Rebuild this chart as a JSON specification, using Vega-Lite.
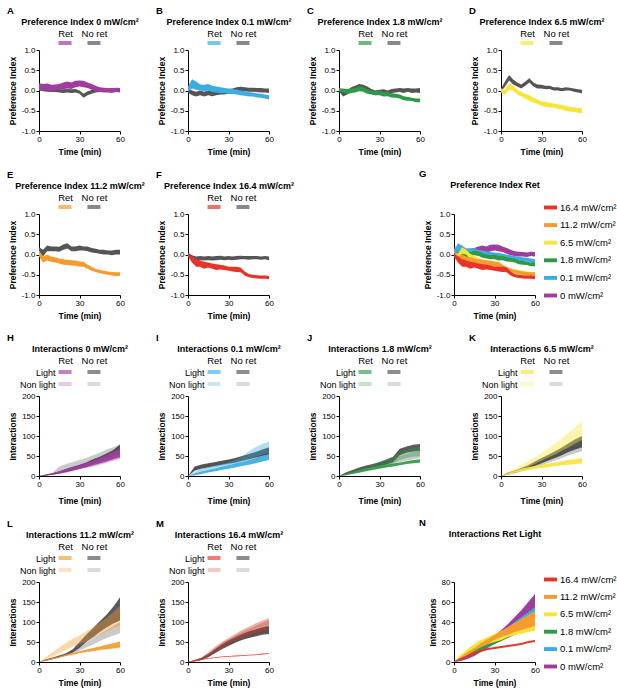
{
  "$schema": "https://vega.github.io/schema/vega-lite/v6.json",
  "padding": {"left": 7, "top": 5, "right": 5, "bottom": 5},
  "datasets": {
    "legPI": [{"g": "Ret"}, {"g": "No ret"}],
    "legIA": [
      {"s": "RL", "g": "Ret", "l": "Light"},
      {"s": "NL", "g": "No ret", "l": "Light"},
      {"s": "RN", "g": "Ret", "l": "Non light"},
      {"s": "NN", "g": "No ret", "l": "Non light"}
    ],
    "pi": [
      {"p":"0","g":"No ret","t":0,"lo":0.0,"hi":0.1},{"p":"0","g":"No ret","t":3,"lo":-0.02,"hi":0.08},{"p":"0","g":"No ret","t":6,"lo":-0.03,"hi":0.07},{"p":"0","g":"No ret","t":9,"lo":-0.04,"hi":0.06},{"p":"0","g":"No ret","t":12,"lo":-0.04,"hi":0.04},{"p":"0","g":"No ret","t":15,"lo":-0.05,"hi":0.03},{"p":"0","g":"No ret","t":18,"lo":-0.06,"hi":0.03},{"p":"0","g":"No ret","t":21,"lo":-0.05,"hi":0.04},{"p":"0","g":"No ret","t":24,"lo":-0.06,"hi":0.03},{"p":"0","g":"No ret","t":27,"lo":-0.05,"hi":0.04},{"p":"0","g":"No ret","t":30,"lo":-0.08,"hi":0.0},{"p":"0","g":"No ret","t":33,"lo":-0.18,"hi":-0.08},{"p":"0","g":"No ret","t":36,"lo":-0.12,"hi":-0.02},{"p":"0","g":"No ret","t":39,"lo":-0.08,"hi":0.01},{"p":"0","g":"No ret","t":42,"lo":-0.05,"hi":0.03},{"p":"0","g":"No ret","t":45,"lo":-0.04,"hi":0.04},{"p":"0","g":"No ret","t":48,"lo":-0.02,"hi":0.06},{"p":"0","g":"No ret","t":51,"lo":-0.03,"hi":0.05},{"p":"0","g":"No ret","t":54,"lo":-0.02,"hi":0.06},{"p":"0","g":"No ret","t":57,"lo":-0.03,"hi":0.05},{"p":"0","g":"No ret","t":60,"lo":-0.02,"hi":0.06},
      {"p":"0","g":"Ret","t":0,"lo":0.02,"hi":0.18},{"p":"0","g":"Ret","t":3,"lo":0.0,"hi":0.16},{"p":"0","g":"Ret","t":6,"lo":0.02,"hi":0.17},{"p":"0","g":"Ret","t":9,"lo":-0.02,"hi":0.14},{"p":"0","g":"Ret","t":12,"lo":0.0,"hi":0.15},{"p":"0","g":"Ret","t":15,"lo":0.02,"hi":0.16},{"p":"0","g":"Ret","t":18,"lo":0.03,"hi":0.2},{"p":"0","g":"Ret","t":21,"lo":0.05,"hi":0.22},{"p":"0","g":"Ret","t":24,"lo":0.04,"hi":0.2},{"p":"0","g":"Ret","t":27,"lo":0.08,"hi":0.24},{"p":"0","g":"Ret","t":30,"lo":0.1,"hi":0.25},{"p":"0","g":"Ret","t":33,"lo":0.08,"hi":0.24},{"p":"0","g":"Ret","t":36,"lo":0.06,"hi":0.2},{"p":"0","g":"Ret","t":39,"lo":0.02,"hi":0.16},{"p":"0","g":"Ret","t":42,"lo":-0.02,"hi":0.12},{"p":"0","g":"Ret","t":45,"lo":-0.04,"hi":0.08},{"p":"0","g":"Ret","t":48,"lo":-0.05,"hi":0.07},{"p":"0","g":"Ret","t":51,"lo":-0.05,"hi":0.06},{"p":"0","g":"Ret","t":54,"lo":-0.06,"hi":0.05},{"p":"0","g":"Ret","t":57,"lo":-0.04,"hi":0.07},{"p":"0","g":"Ret","t":60,"lo":-0.05,"hi":0.06},
      {"p":"0.1","g":"No ret","t":0,"lo":-0.05,"hi":0.05},{"p":"0.1","g":"No ret","t":3,"lo":-0.12,"hi":0.0},{"p":"0.1","g":"No ret","t":6,"lo":-0.15,"hi":-0.03},{"p":"0.1","g":"No ret","t":9,"lo":-0.12,"hi":0.0},{"p":"0.1","g":"No ret","t":12,"lo":-0.15,"hi":-0.03},{"p":"0.1","g":"No ret","t":15,"lo":-0.12,"hi":0.0},{"p":"0.1","g":"No ret","t":18,"lo":-0.14,"hi":-0.02},{"p":"0.1","g":"No ret","t":21,"lo":-0.12,"hi":0.0},{"p":"0.1","g":"No ret","t":24,"lo":-0.1,"hi":0.02},{"p":"0.1","g":"No ret","t":27,"lo":-0.1,"hi":0.02},{"p":"0.1","g":"No ret","t":30,"lo":-0.08,"hi":0.04},{"p":"0.1","g":"No ret","t":33,"lo":-0.08,"hi":0.05},{"p":"0.1","g":"No ret","t":36,"lo":-0.04,"hi":0.08},{"p":"0.1","g":"No ret","t":39,"lo":-0.02,"hi":0.09},{"p":"0.1","g":"No ret","t":42,"lo":-0.02,"hi":0.08},{"p":"0.1","g":"No ret","t":45,"lo":-0.03,"hi":0.07},{"p":"0.1","g":"No ret","t":48,"lo":-0.03,"hi":0.07},{"p":"0.1","g":"No ret","t":51,"lo":-0.04,"hi":0.06},{"p":"0.1","g":"No ret","t":54,"lo":-0.05,"hi":0.06},{"p":"0.1","g":"No ret","t":57,"lo":-0.05,"hi":0.05},{"p":"0.1","g":"No ret","t":60,"lo":-0.06,"hi":0.05},
      {"p":"0.1","g":"Ret","t":0,"lo":-0.02,"hi":0.1},{"p":"0.1","g":"Ret","t":3,"lo":0.05,"hi":0.28},{"p":"0.1","g":"Ret","t":6,"lo":0.02,"hi":0.22},{"p":"0.1","g":"Ret","t":9,"lo":0.0,"hi":0.15},{"p":"0.1","g":"Ret","t":12,"lo":-0.02,"hi":0.14},{"p":"0.1","g":"Ret","t":15,"lo":0.0,"hi":0.16},{"p":"0.1","g":"Ret","t":18,"lo":-0.04,"hi":0.12},{"p":"0.1","g":"Ret","t":21,"lo":-0.05,"hi":0.1},{"p":"0.1","g":"Ret","t":24,"lo":-0.06,"hi":0.08},{"p":"0.1","g":"Ret","t":27,"lo":-0.07,"hi":0.06},{"p":"0.1","g":"Ret","t":30,"lo":-0.08,"hi":0.05},{"p":"0.1","g":"Ret","t":33,"lo":-0.08,"hi":0.04},{"p":"0.1","g":"Ret","t":36,"lo":-0.1,"hi":0.02},{"p":"0.1","g":"Ret","t":39,"lo":-0.12,"hi":0.0},{"p":"0.1","g":"Ret","t":42,"lo":-0.13,"hi":-0.02},{"p":"0.1","g":"Ret","t":45,"lo":-0.15,"hi":-0.04},{"p":"0.1","g":"Ret","t":48,"lo":-0.15,"hi":-0.05},{"p":"0.1","g":"Ret","t":51,"lo":-0.17,"hi":-0.07},{"p":"0.1","g":"Ret","t":54,"lo":-0.18,"hi":-0.08},{"p":"0.1","g":"Ret","t":57,"lo":-0.2,"hi":-0.1},{"p":"0.1","g":"Ret","t":60,"lo":-0.22,"hi":-0.12},
      {"p":"1.8","g":"No ret","t":0,"lo":-0.02,"hi":0.08},{"p":"1.8","g":"No ret","t":3,"lo":-0.15,"hi":-0.02},{"p":"1.8","g":"No ret","t":6,"lo":-0.1,"hi":0.0},{"p":"1.8","g":"No ret","t":9,"lo":-0.05,"hi":0.08},{"p":"1.8","g":"No ret","t":12,"lo":0.0,"hi":0.12},{"p":"1.8","g":"No ret","t":15,"lo":0.05,"hi":0.16},{"p":"1.8","g":"No ret","t":18,"lo":0.02,"hi":0.14},{"p":"1.8","g":"No ret","t":21,"lo":-0.02,"hi":0.1},{"p":"1.8","g":"No ret","t":24,"lo":-0.08,"hi":0.04},{"p":"1.8","g":"No ret","t":27,"lo":-0.12,"hi":0.0},{"p":"1.8","g":"No ret","t":30,"lo":-0.1,"hi":0.02},{"p":"1.8","g":"No ret","t":33,"lo":-0.08,"hi":0.03},{"p":"1.8","g":"No ret","t":36,"lo":-0.12,"hi":0.0},{"p":"1.8","g":"No ret","t":39,"lo":-0.06,"hi":0.04},{"p":"1.8","g":"No ret","t":42,"lo":-0.05,"hi":0.05},{"p":"1.8","g":"No ret","t":45,"lo":-0.04,"hi":0.06},{"p":"1.8","g":"No ret","t":48,"lo":-0.06,"hi":0.05},{"p":"1.8","g":"No ret","t":51,"lo":-0.03,"hi":0.06},{"p":"1.8","g":"No ret","t":54,"lo":-0.06,"hi":0.05},{"p":"1.8","g":"No ret","t":57,"lo":-0.05,"hi":0.05},{"p":"1.8","g":"No ret","t":60,"lo":-0.06,"hi":0.06},
      {"p":"1.8","g":"Ret","t":0,"lo":-0.02,"hi":0.05},{"p":"1.8","g":"Ret","t":3,"lo":-0.05,"hi":0.05},{"p":"1.8","g":"Ret","t":6,"lo":-0.08,"hi":0.04},{"p":"1.8","g":"Ret","t":9,"lo":-0.06,"hi":0.05},{"p":"1.8","g":"Ret","t":12,"lo":-0.05,"hi":0.06},{"p":"1.8","g":"Ret","t":15,"lo":-0.02,"hi":0.1},{"p":"1.8","g":"Ret","t":18,"lo":-0.03,"hi":0.08},{"p":"1.8","g":"Ret","t":21,"lo":-0.08,"hi":0.03},{"p":"1.8","g":"Ret","t":24,"lo":-0.1,"hi":0.0},{"p":"1.8","g":"Ret","t":27,"lo":-0.12,"hi":-0.02},{"p":"1.8","g":"Ret","t":30,"lo":-0.12,"hi":0.0},{"p":"1.8","g":"Ret","t":33,"lo":-0.15,"hi":-0.04},{"p":"1.8","g":"Ret","t":36,"lo":-0.14,"hi":-0.03},{"p":"1.8","g":"Ret","t":39,"lo":-0.17,"hi":-0.07},{"p":"1.8","g":"Ret","t":42,"lo":-0.18,"hi":-0.08},{"p":"1.8","g":"Ret","t":45,"lo":-0.2,"hi":-0.1},{"p":"1.8","g":"Ret","t":48,"lo":-0.24,"hi":-0.14},{"p":"1.8","g":"Ret","t":51,"lo":-0.25,"hi":-0.16},{"p":"1.8","g":"Ret","t":54,"lo":-0.26,"hi":-0.18},{"p":"1.8","g":"Ret","t":57,"lo":-0.29,"hi":-0.2},{"p":"1.8","g":"Ret","t":60,"lo":-0.29,"hi":-0.2},
      {"p":"6.5","g":"No ret","t":0,"lo":-0.03,"hi":0.05},{"p":"6.5","g":"No ret","t":3,"lo":0.1,"hi":0.22},{"p":"6.5","g":"No ret","t":6,"lo":0.25,"hi":0.38},{"p":"6.5","g":"No ret","t":9,"lo":0.15,"hi":0.27},{"p":"6.5","g":"No ret","t":12,"lo":0.1,"hi":0.2},{"p":"6.5","g":"No ret","t":15,"lo":0.05,"hi":0.15},{"p":"6.5","g":"No ret","t":18,"lo":0.12,"hi":0.22},{"p":"6.5","g":"No ret","t":21,"lo":0.2,"hi":0.3},{"p":"6.5","g":"No ret","t":24,"lo":0.1,"hi":0.2},{"p":"6.5","g":"No ret","t":27,"lo":0.05,"hi":0.15},{"p":"6.5","g":"No ret","t":30,"lo":0.05,"hi":0.14},{"p":"6.5","g":"No ret","t":33,"lo":0.03,"hi":0.12},{"p":"6.5","g":"No ret","t":36,"lo":0.04,"hi":0.12},{"p":"6.5","g":"No ret","t":39,"lo":0.0,"hi":0.08},{"p":"6.5","g":"No ret","t":42,"lo":0.0,"hi":0.08},{"p":"6.5","g":"No ret","t":45,"lo":-0.02,"hi":0.06},{"p":"6.5","g":"No ret","t":48,"lo":0.0,"hi":0.08},{"p":"6.5","g":"No ret","t":51,"lo":0.0,"hi":0.07},{"p":"6.5","g":"No ret","t":54,"lo":-0.03,"hi":0.05},{"p":"6.5","g":"No ret","t":57,"lo":-0.05,"hi":0.03},{"p":"6.5","g":"No ret","t":60,"lo":-0.07,"hi":0.02},
      {"p":"6.5","g":"Ret","t":0,"lo":-0.05,"hi":0.05},{"p":"6.5","g":"Ret","t":3,"lo":-0.1,"hi":0.02},{"p":"6.5","g":"Ret","t":6,"lo":0.02,"hi":0.18},{"p":"6.5","g":"Ret","t":9,"lo":0.0,"hi":0.12},{"p":"6.5","g":"Ret","t":12,"lo":-0.1,"hi":0.02},{"p":"6.5","g":"Ret","t":15,"lo":-0.15,"hi":-0.03},{"p":"6.5","g":"Ret","t":18,"lo":-0.2,"hi":-0.08},{"p":"6.5","g":"Ret","t":21,"lo":-0.25,"hi":-0.12},{"p":"6.5","g":"Ret","t":24,"lo":-0.3,"hi":-0.18},{"p":"6.5","g":"Ret","t":27,"lo":-0.33,"hi":-0.22},{"p":"6.5","g":"Ret","t":30,"lo":-0.38,"hi":-0.27},{"p":"6.5","g":"Ret","t":33,"lo":-0.4,"hi":-0.28},{"p":"6.5","g":"Ret","t":36,"lo":-0.42,"hi":-0.3},{"p":"6.5","g":"Ret","t":39,"lo":-0.42,"hi":-0.32},{"p":"6.5","g":"Ret","t":42,"lo":-0.45,"hi":-0.34},{"p":"6.5","g":"Ret","t":45,"lo":-0.47,"hi":-0.36},{"p":"6.5","g":"Ret","t":48,"lo":-0.5,"hi":-0.38},{"p":"6.5","g":"Ret","t":51,"lo":-0.52,"hi":-0.4},{"p":"6.5","g":"Ret","t":54,"lo":-0.53,"hi":-0.42},{"p":"6.5","g":"Ret","t":57,"lo":-0.55,"hi":-0.43},{"p":"6.5","g":"Ret","t":60,"lo":-0.56,"hi":-0.44},
      {"p":"11.2","g":"No ret","t":0,"lo":0.05,"hi":0.18},{"p":"11.2","g":"No ret","t":3,"lo":-0.05,"hi":0.12},{"p":"11.2","g":"No ret","t":6,"lo":0.08,"hi":0.22},{"p":"11.2","g":"No ret","t":9,"lo":0.08,"hi":0.2},{"p":"11.2","g":"No ret","t":12,"lo":0.08,"hi":0.2},{"p":"11.2","g":"No ret","t":15,"lo":0.07,"hi":0.19},{"p":"11.2","g":"No ret","t":18,"lo":0.12,"hi":0.25},{"p":"11.2","g":"No ret","t":21,"lo":0.15,"hi":0.28},{"p":"11.2","g":"No ret","t":24,"lo":0.08,"hi":0.2},{"p":"11.2","g":"No ret","t":27,"lo":0.08,"hi":0.2},{"p":"11.2","g":"No ret","t":30,"lo":0.1,"hi":0.22},{"p":"11.2","g":"No ret","t":33,"lo":0.1,"hi":0.2},{"p":"11.2","g":"No ret","t":36,"lo":0.08,"hi":0.2},{"p":"11.2","g":"No ret","t":39,"lo":0.05,"hi":0.16},{"p":"11.2","g":"No ret","t":42,"lo":0.04,"hi":0.14},{"p":"11.2","g":"No ret","t":45,"lo":0.02,"hi":0.12},{"p":"11.2","g":"No ret","t":48,"lo":0.0,"hi":0.12},{"p":"11.2","g":"No ret","t":51,"lo":0.0,"hi":0.1},{"p":"11.2","g":"No ret","t":54,"lo":-0.02,"hi":0.1},{"p":"11.2","g":"No ret","t":57,"lo":0.0,"hi":0.12},{"p":"11.2","g":"No ret","t":60,"lo":0.0,"hi":0.12},
      {"p":"11.2","g":"Ret","t":0,"lo":-0.05,"hi":0.1},{"p":"11.2","g":"Ret","t":3,"lo":-0.2,"hi":-0.05},{"p":"11.2","g":"Ret","t":6,"lo":-0.15,"hi":0.0},{"p":"11.2","g":"Ret","t":9,"lo":-0.18,"hi":-0.05},{"p":"11.2","g":"Ret","t":12,"lo":-0.2,"hi":-0.07},{"p":"11.2","g":"Ret","t":15,"lo":-0.22,"hi":-0.1},{"p":"11.2","g":"Ret","t":18,"lo":-0.25,"hi":-0.12},{"p":"11.2","g":"Ret","t":21,"lo":-0.26,"hi":-0.13},{"p":"11.2","g":"Ret","t":24,"lo":-0.27,"hi":-0.14},{"p":"11.2","g":"Ret","t":27,"lo":-0.28,"hi":-0.15},{"p":"11.2","g":"Ret","t":30,"lo":-0.3,"hi":-0.17},{"p":"11.2","g":"Ret","t":33,"lo":-0.3,"hi":-0.18},{"p":"11.2","g":"Ret","t":36,"lo":-0.35,"hi":-0.25},{"p":"11.2","g":"Ret","t":39,"lo":-0.4,"hi":-0.3},{"p":"11.2","g":"Ret","t":42,"lo":-0.43,"hi":-0.35},{"p":"11.2","g":"Ret","t":45,"lo":-0.46,"hi":-0.38},{"p":"11.2","g":"Ret","t":48,"lo":-0.48,"hi":-0.4},{"p":"11.2","g":"Ret","t":51,"lo":-0.5,"hi":-0.42},{"p":"11.2","g":"Ret","t":54,"lo":-0.52,"hi":-0.43},{"p":"11.2","g":"Ret","t":57,"lo":-0.53,"hi":-0.44},{"p":"11.2","g":"Ret","t":60,"lo":-0.53,"hi":-0.44},
      {"p":"16.4","g":"No ret","t":0,"lo":-0.03,"hi":0.05},{"p":"16.4","g":"No ret","t":3,"lo":-0.12,"hi":-0.02},{"p":"16.4","g":"No ret","t":6,"lo":-0.15,"hi":-0.05},{"p":"16.4","g":"No ret","t":9,"lo":-0.14,"hi":-0.04},{"p":"16.4","g":"No ret","t":12,"lo":-0.15,"hi":-0.05},{"p":"16.4","g":"No ret","t":15,"lo":-0.14,"hi":-0.04},{"p":"16.4","g":"No ret","t":18,"lo":-0.15,"hi":-0.05},{"p":"16.4","g":"No ret","t":21,"lo":-0.14,"hi":-0.04},{"p":"16.4","g":"No ret","t":24,"lo":-0.13,"hi":-0.03},{"p":"16.4","g":"No ret","t":27,"lo":-0.14,"hi":-0.05},{"p":"16.4","g":"No ret","t":30,"lo":-0.13,"hi":-0.04},{"p":"16.4","g":"No ret","t":33,"lo":-0.14,"hi":-0.05},{"p":"16.4","g":"No ret","t":36,"lo":-0.13,"hi":-0.04},{"p":"16.4","g":"No ret","t":39,"lo":-0.12,"hi":-0.03},{"p":"16.4","g":"No ret","t":42,"lo":-0.12,"hi":-0.04},{"p":"16.4","g":"No ret","t":45,"lo":-0.13,"hi":-0.04},{"p":"16.4","g":"No ret","t":48,"lo":-0.12,"hi":-0.04},{"p":"16.4","g":"No ret","t":51,"lo":-0.12,"hi":-0.04},{"p":"16.4","g":"No ret","t":54,"lo":-0.13,"hi":-0.05},{"p":"16.4","g":"No ret","t":57,"lo":-0.12,"hi":-0.04},{"p":"16.4","g":"No ret","t":60,"lo":-0.14,"hi":-0.05},
      {"p":"16.4","g":"Ret","t":0,"lo":-0.05,"hi":0.03},{"p":"16.4","g":"Ret","t":3,"lo":-0.2,"hi":-0.05},{"p":"16.4","g":"Ret","t":6,"lo":-0.3,"hi":-0.12},{"p":"16.4","g":"Ret","t":9,"lo":-0.3,"hi":-0.15},{"p":"16.4","g":"Ret","t":12,"lo":-0.35,"hi":-0.18},{"p":"16.4","g":"Ret","t":15,"lo":-0.32,"hi":-0.2},{"p":"16.4","g":"Ret","t":18,"lo":-0.35,"hi":-0.22},{"p":"16.4","g":"Ret","t":21,"lo":-0.38,"hi":-0.24},{"p":"16.4","g":"Ret","t":24,"lo":-0.37,"hi":-0.25},{"p":"16.4","g":"Ret","t":27,"lo":-0.38,"hi":-0.27},{"p":"16.4","g":"Ret","t":30,"lo":-0.4,"hi":-0.3},{"p":"16.4","g":"Ret","t":33,"lo":-0.42,"hi":-0.3},{"p":"16.4","g":"Ret","t":36,"lo":-0.43,"hi":-0.3},{"p":"16.4","g":"Ret","t":39,"lo":-0.44,"hi":-0.32},{"p":"16.4","g":"Ret","t":42,"lo":-0.52,"hi":-0.42},{"p":"16.4","g":"Ret","t":45,"lo":-0.56,"hi":-0.48},{"p":"16.4","g":"Ret","t":48,"lo":-0.58,"hi":-0.5},{"p":"16.4","g":"Ret","t":51,"lo":-0.59,"hi":-0.51},{"p":"16.4","g":"Ret","t":54,"lo":-0.6,"hi":-0.52},{"p":"16.4","g":"Ret","t":57,"lo":-0.6,"hi":-0.52},{"p":"16.4","g":"Ret","t":60,"lo":-0.61,"hi":-0.53}
    ],
    "ia": [
      {"p":"0","s":"NN","t":0,"lo":0,"hi":0},{"p":"0","s":"NN","t":5,"lo":1,"hi":4},{"p":"0","s":"NN","t":10,"lo":3,"hi":8},{"p":"0","s":"NN","t":15,"lo":12,"hi":24},{"p":"0","s":"NN","t":20,"lo":18,"hi":30},{"p":"0","s":"NN","t":25,"lo":22,"hi":35},{"p":"0","s":"NN","t":30,"lo":27,"hi":40},{"p":"0","s":"NN","t":35,"lo":32,"hi":45},{"p":"0","s":"NN","t":40,"lo":37,"hi":52},{"p":"0","s":"NN","t":45,"lo":43,"hi":58},{"p":"0","s":"NN","t":50,"lo":50,"hi":66},{"p":"0","s":"NN","t":55,"lo":56,"hi":72},{"p":"0","s":"NN","t":60,"lo":60,"hi":80},
      {"p":"0","s":"NL","t":0,"lo":0,"hi":0},{"p":"0","s":"NL","t":5,"lo":1,"hi":4},{"p":"0","s":"NL","t":10,"lo":3,"hi":7},{"p":"0","s":"NL","t":15,"lo":6,"hi":12},{"p":"0","s":"NL","t":20,"lo":10,"hi":18},{"p":"0","s":"NL","t":25,"lo":14,"hi":23},{"p":"0","s":"NL","t":30,"lo":18,"hi":28},{"p":"0","s":"NL","t":35,"lo":23,"hi":34},{"p":"0","s":"NL","t":40,"lo":30,"hi":42},{"p":"0","s":"NL","t":45,"lo":36,"hi":48},{"p":"0","s":"NL","t":50,"lo":42,"hi":56},{"p":"0","s":"NL","t":55,"lo":48,"hi":65},{"p":"0","s":"NL","t":60,"lo":55,"hi":78},
      {"p":"0","s":"RN","t":0,"lo":0,"hi":0},{"p":"0","s":"RN","t":5,"lo":1,"hi":3},{"p":"0","s":"RN","t":10,"lo":3,"hi":6},{"p":"0","s":"RN","t":15,"lo":5,"hi":10},{"p":"0","s":"RN","t":20,"lo":8,"hi":14},{"p":"0","s":"RN","t":25,"lo":12,"hi":19},{"p":"0","s":"RN","t":30,"lo":16,"hi":24},{"p":"0","s":"RN","t":35,"lo":20,"hi":29},{"p":"0","s":"RN","t":40,"lo":24,"hi":34},{"p":"0","s":"RN","t":45,"lo":28,"hi":40},{"p":"0","s":"RN","t":50,"lo":33,"hi":46},{"p":"0","s":"RN","t":55,"lo":38,"hi":52},{"p":"0","s":"RN","t":60,"lo":43,"hi":58},
      {"p":"0","s":"RL","t":0,"lo":0,"hi":0},{"p":"0","s":"RL","t":5,"lo":1,"hi":3},{"p":"0","s":"RL","t":10,"lo":3,"hi":7},{"p":"0","s":"RL","t":15,"lo":6,"hi":12},{"p":"0","s":"RL","t":20,"lo":10,"hi":17},{"p":"0","s":"RL","t":25,"lo":14,"hi":22},{"p":"0","s":"RL","t":30,"lo":18,"hi":27},{"p":"0","s":"RL","t":35,"lo":22,"hi":32},{"p":"0","s":"RL","t":40,"lo":27,"hi":38},{"p":"0","s":"RL","t":45,"lo":31,"hi":45},{"p":"0","s":"RL","t":50,"lo":36,"hi":52},{"p":"0","s":"RL","t":55,"lo":42,"hi":60},{"p":"0","s":"RL","t":60,"lo":47,"hi":68},
      {"p":"0.1","s":"NN","t":0,"lo":0,"hi":0},{"p":"0.1","s":"NN","t":5,"lo":12,"hi":22},{"p":"0.1","s":"NN","t":10,"lo":17,"hi":27},{"p":"0.1","s":"NN","t":15,"lo":20,"hi":30},{"p":"0.1","s":"NN","t":20,"lo":23,"hi":33},{"p":"0.1","s":"NN","t":25,"lo":26,"hi":36},{"p":"0.1","s":"NN","t":30,"lo":29,"hi":39},{"p":"0.1","s":"NN","t":35,"lo":32,"hi":43},{"p":"0.1","s":"NN","t":40,"lo":36,"hi":48},{"p":"0.1","s":"NN","t":45,"lo":40,"hi":53},{"p":"0.1","s":"NN","t":50,"lo":44,"hi":58},{"p":"0.1","s":"NN","t":55,"lo":48,"hi":64},{"p":"0.1","s":"NN","t":60,"lo":52,"hi":70},
      {"p":"0.1","s":"NL","t":0,"lo":0,"hi":0},{"p":"0.1","s":"NL","t":5,"lo":14,"hi":24},{"p":"0.1","s":"NL","t":10,"lo":19,"hi":29},{"p":"0.1","s":"NL","t":15,"lo":22,"hi":32},{"p":"0.1","s":"NL","t":20,"lo":25,"hi":35},{"p":"0.1","s":"NL","t":25,"lo":28,"hi":38},{"p":"0.1","s":"NL","t":30,"lo":31,"hi":41},{"p":"0.1","s":"NL","t":35,"lo":34,"hi":45},{"p":"0.1","s":"NL","t":40,"lo":38,"hi":50},{"p":"0.1","s":"NL","t":45,"lo":42,"hi":55},{"p":"0.1","s":"NL","t":50,"lo":46,"hi":60},{"p":"0.1","s":"NL","t":55,"lo":50,"hi":66},{"p":"0.1","s":"NL","t":60,"lo":53,"hi":72},
      {"p":"0.1","s":"RN","t":0,"lo":0,"hi":0},{"p":"0.1","s":"RN","t":5,"lo":3,"hi":10},{"p":"0.1","s":"RN","t":10,"lo":8,"hi":18},{"p":"0.1","s":"RN","t":15,"lo":12,"hi":22},{"p":"0.1","s":"RN","t":20,"lo":16,"hi":26},{"p":"0.1","s":"RN","t":25,"lo":20,"hi":30},{"p":"0.1","s":"RN","t":30,"lo":24,"hi":34},{"p":"0.1","s":"RN","t":35,"lo":28,"hi":40},{"p":"0.1","s":"RN","t":40,"lo":34,"hi":48},{"p":"0.1","s":"RN","t":45,"lo":42,"hi":62},{"p":"0.1","s":"RN","t":50,"lo":48,"hi":72},{"p":"0.1","s":"RN","t":55,"lo":54,"hi":80},{"p":"0.1","s":"RN","t":60,"lo":58,"hi":86},
      {"p":"0.1","s":"RL","t":0,"lo":0,"hi":0},{"p":"0.1","s":"RL","t":5,"lo":2,"hi":6},{"p":"0.1","s":"RL","t":10,"lo":5,"hi":11},{"p":"0.1","s":"RL","t":15,"lo":9,"hi":15},{"p":"0.1","s":"RL","t":20,"lo":12,"hi":19},{"p":"0.1","s":"RL","t":25,"lo":15,"hi":23},{"p":"0.1","s":"RL","t":30,"lo":18,"hi":27},{"p":"0.1","s":"RL","t":35,"lo":21,"hi":31},{"p":"0.1","s":"RL","t":40,"lo":25,"hi":35},{"p":"0.1","s":"RL","t":45,"lo":28,"hi":40},{"p":"0.1","s":"RL","t":50,"lo":32,"hi":45},{"p":"0.1","s":"RL","t":55,"lo":36,"hi":50},{"p":"0.1","s":"RL","t":60,"lo":40,"hi":55},
      {"p":"1.8","s":"NN","t":0,"lo":0,"hi":0},{"p":"1.8","s":"NN","t":5,"lo":3,"hi":8},{"p":"1.8","s":"NN","t":10,"lo":7,"hi":13},{"p":"1.8","s":"NN","t":15,"lo":12,"hi":19},{"p":"1.8","s":"NN","t":20,"lo":16,"hi":23},{"p":"1.8","s":"NN","t":25,"lo":19,"hi":27},{"p":"1.8","s":"NN","t":30,"lo":23,"hi":32},{"p":"1.8","s":"NN","t":35,"lo":27,"hi":37},{"p":"1.8","s":"NN","t":40,"lo":30,"hi":42},{"p":"1.8","s":"NN","t":45,"lo":35,"hi":50},{"p":"1.8","s":"NN","t":50,"lo":38,"hi":55},{"p":"1.8","s":"NN","t":55,"lo":42,"hi":60},{"p":"1.8","s":"NN","t":60,"lo":45,"hi":63},
      {"p":"1.8","s":"NL","t":0,"lo":0,"hi":0},{"p":"1.8","s":"NL","t":5,"lo":4,"hi":9},{"p":"1.8","s":"NL","t":10,"lo":9,"hi":15},{"p":"1.8","s":"NL","t":15,"lo":14,"hi":21},{"p":"1.8","s":"NL","t":20,"lo":18,"hi":26},{"p":"1.8","s":"NL","t":25,"lo":21,"hi":30},{"p":"1.8","s":"NL","t":30,"lo":25,"hi":35},{"p":"1.8","s":"NL","t":35,"lo":29,"hi":41},{"p":"1.8","s":"NL","t":40,"lo":35,"hi":48},{"p":"1.8","s":"NL","t":45,"lo":52,"hi":68},{"p":"1.8","s":"NL","t":50,"lo":58,"hi":74},{"p":"1.8","s":"NL","t":55,"lo":61,"hi":78},{"p":"1.8","s":"NL","t":60,"lo":63,"hi":80},
      {"p":"1.8","s":"RN","t":0,"lo":0,"hi":0},{"p":"1.8","s":"RN","t":5,"lo":2,"hi":7},{"p":"1.8","s":"RN","t":10,"lo":6,"hi":13},{"p":"1.8","s":"RN","t":15,"lo":10,"hi":18},{"p":"1.8","s":"RN","t":20,"lo":14,"hi":23},{"p":"1.8","s":"RN","t":25,"lo":18,"hi":28},{"p":"1.8","s":"RN","t":30,"lo":22,"hi":33},{"p":"1.8","s":"RN","t":35,"lo":26,"hi":40},{"p":"1.8","s":"RN","t":40,"lo":32,"hi":48},{"p":"1.8","s":"RN","t":45,"lo":40,"hi":58},{"p":"1.8","s":"RN","t":50,"lo":45,"hi":65},{"p":"1.8","s":"RN","t":55,"lo":48,"hi":70},{"p":"1.8","s":"RN","t":60,"lo":50,"hi":75},
      {"p":"1.8","s":"RL","t":0,"lo":0,"hi":0},{"p":"1.8","s":"RL","t":5,"lo":2,"hi":5},{"p":"1.8","s":"RL","t":10,"lo":5,"hi":10},{"p":"1.8","s":"RL","t":15,"lo":8,"hi":14},{"p":"1.8","s":"RL","t":20,"lo":12,"hi":18},{"p":"1.8","s":"RL","t":25,"lo":15,"hi":21},{"p":"1.8","s":"RL","t":30,"lo":18,"hi":25},{"p":"1.8","s":"RL","t":35,"lo":21,"hi":28},{"p":"1.8","s":"RL","t":40,"lo":24,"hi":31},{"p":"1.8","s":"RL","t":45,"lo":27,"hi":34},{"p":"1.8","s":"RL","t":50,"lo":30,"hi":37},{"p":"1.8","s":"RL","t":55,"lo":32,"hi":40},{"p":"1.8","s":"RL","t":60,"lo":33,"hi":42},
      {"p":"6.5","s":"NN","t":0,"lo":0,"hi":0},{"p":"6.5","s":"NN","t":5,"lo":3,"hi":8},{"p":"6.5","s":"NN","t":10,"lo":7,"hi":13},{"p":"6.5","s":"NN","t":15,"lo":11,"hi":18},{"p":"6.5","s":"NN","t":20,"lo":16,"hi":24},{"p":"6.5","s":"NN","t":25,"lo":21,"hi":31},{"p":"6.5","s":"NN","t":30,"lo":27,"hi":38},{"p":"6.5","s":"NN","t":35,"lo":33,"hi":46},{"p":"6.5","s":"NN","t":40,"lo":39,"hi":54},{"p":"6.5","s":"NN","t":45,"lo":45,"hi":62},{"p":"6.5","s":"NN","t":50,"lo":51,"hi":70},{"p":"6.5","s":"NN","t":55,"lo":57,"hi":78},{"p":"6.5","s":"NN","t":60,"lo":62,"hi":88},
      {"p":"6.5","s":"NL","t":0,"lo":0,"hi":0},{"p":"6.5","s":"NL","t":5,"lo":3,"hi":8},{"p":"6.5","s":"NL","t":10,"lo":8,"hi":14},{"p":"6.5","s":"NL","t":15,"lo":13,"hi":20},{"p":"6.5","s":"NL","t":20,"lo":18,"hi":27},{"p":"6.5","s":"NL","t":25,"lo":25,"hi":36},{"p":"6.5","s":"NL","t":30,"lo":32,"hi":45},{"p":"6.5","s":"NL","t":35,"lo":39,"hi":53},{"p":"6.5","s":"NL","t":40,"lo":45,"hi":62},{"p":"6.5","s":"NL","t":45,"lo":52,"hi":71},{"p":"6.5","s":"NL","t":50,"lo":60,"hi":82},{"p":"6.5","s":"NL","t":55,"lo":66,"hi":92},{"p":"6.5","s":"NL","t":60,"lo":72,"hi":100},
      {"p":"6.5","s":"RN","t":0,"lo":0,"hi":0},{"p":"6.5","s":"RN","t":5,"lo":3,"hi":9},{"p":"6.5","s":"RN","t":10,"lo":9,"hi":18},{"p":"6.5","s":"RN","t":15,"lo":15,"hi":27},{"p":"6.5","s":"RN","t":20,"lo":22,"hi":37},{"p":"6.5","s":"RN","t":25,"lo":30,"hi":47},{"p":"6.5","s":"RN","t":30,"lo":38,"hi":58},{"p":"6.5","s":"RN","t":35,"lo":46,"hi":69},{"p":"6.5","s":"RN","t":40,"lo":54,"hi":81},{"p":"6.5","s":"RN","t":45,"lo":63,"hi":94},{"p":"6.5","s":"RN","t":50,"lo":72,"hi":108},{"p":"6.5","s":"RN","t":55,"lo":82,"hi":122},{"p":"6.5","s":"RN","t":60,"lo":90,"hi":138},
      {"p":"6.5","s":"RL","t":0,"lo":0,"hi":0},{"p":"6.5","s":"RL","t":5,"lo":3,"hi":7},{"p":"6.5","s":"RL","t":10,"lo":8,"hi":13},{"p":"6.5","s":"RL","t":15,"lo":12,"hi":18},{"p":"6.5","s":"RL","t":20,"lo":15,"hi":22},{"p":"6.5","s":"RL","t":25,"lo":18,"hi":25},{"p":"6.5","s":"RL","t":30,"lo":20,"hi":28},{"p":"6.5","s":"RL","t":35,"lo":22,"hi":31},{"p":"6.5","s":"RL","t":40,"lo":25,"hi":34},{"p":"6.5","s":"RL","t":45,"lo":27,"hi":37},{"p":"6.5","s":"RL","t":50,"lo":28,"hi":40},{"p":"6.5","s":"RL","t":55,"lo":30,"hi":42},{"p":"6.5","s":"RL","t":60,"lo":31,"hi":45},
      {"p":"11.2","s":"NN","t":0,"lo":0,"hi":0},{"p":"11.2","s":"NN","t":5,"lo":3,"hi":6},{"p":"11.2","s":"NN","t":10,"lo":6,"hi":10},{"p":"11.2","s":"NN","t":15,"lo":10,"hi":15},{"p":"11.2","s":"NN","t":20,"lo":15,"hi":20},{"p":"11.2","s":"NN","t":25,"lo":20,"hi":28},{"p":"11.2","s":"NN","t":30,"lo":28,"hi":38},{"p":"11.2","s":"NN","t":35,"lo":36,"hi":48},{"p":"11.2","s":"NN","t":40,"lo":44,"hi":60},{"p":"11.2","s":"NN","t":45,"lo":52,"hi":70},{"p":"11.2","s":"NN","t":50,"lo":60,"hi":80},{"p":"11.2","s":"NN","t":55,"lo":66,"hi":90},{"p":"11.2","s":"NN","t":60,"lo":72,"hi":100},
      {"p":"11.2","s":"NL","t":0,"lo":0,"hi":0},{"p":"11.2","s":"NL","t":5,"lo":3,"hi":6},{"p":"11.2","s":"NL","t":10,"lo":7,"hi":11},{"p":"11.2","s":"NL","t":15,"lo":12,"hi":16},{"p":"11.2","s":"NL","t":20,"lo":17,"hi":22},{"p":"11.2","s":"NL","t":25,"lo":24,"hi":32},{"p":"11.2","s":"NL","t":30,"lo":35,"hi":50},{"p":"11.2","s":"NL","t":35,"lo":50,"hi":68},{"p":"11.2","s":"NL","t":40,"lo":62,"hi":85},{"p":"11.2","s":"NL","t":45,"lo":75,"hi":102},{"p":"11.2","s":"NL","t":50,"lo":86,"hi":118},{"p":"11.2","s":"NL","t":55,"lo":96,"hi":138},{"p":"11.2","s":"NL","t":60,"lo":104,"hi":162},
      {"p":"11.2","s":"RN","t":0,"lo":0,"hi":0},{"p":"11.2","s":"RN","t":5,"lo":6,"hi":12},{"p":"11.2","s":"RN","t":10,"lo":14,"hi":24},{"p":"11.2","s":"RN","t":15,"lo":22,"hi":36},{"p":"11.2","s":"RN","t":20,"lo":30,"hi":48},{"p":"11.2","s":"RN","t":25,"lo":38,"hi":58},{"p":"11.2","s":"RN","t":30,"lo":45,"hi":66},{"p":"11.2","s":"RN","t":35,"lo":52,"hi":76},{"p":"11.2","s":"RN","t":40,"lo":60,"hi":86},{"p":"11.2","s":"RN","t":45,"lo":68,"hi":98},{"p":"11.2","s":"RN","t":50,"lo":76,"hi":110},{"p":"11.2","s":"RN","t":55,"lo":84,"hi":124},{"p":"11.2","s":"RN","t":60,"lo":90,"hi":140},
      {"p":"11.2","s":"RL","t":0,"lo":0,"hi":0},{"p":"11.2","s":"RL","t":5,"lo":3,"hi":5},{"p":"11.2","s":"RL","t":10,"lo":7,"hi":10},{"p":"11.2","s":"RL","t":15,"lo":11,"hi":14},{"p":"11.2","s":"RL","t":20,"lo":15,"hi":19},{"p":"11.2","s":"RL","t":25,"lo":18,"hi":23},{"p":"11.2","s":"RL","t":30,"lo":22,"hi":27},{"p":"11.2","s":"RL","t":35,"lo":25,"hi":31},{"p":"11.2","s":"RL","t":40,"lo":27,"hi":35},{"p":"11.2","s":"RL","t":45,"lo":30,"hi":39},{"p":"11.2","s":"RL","t":50,"lo":32,"hi":43},{"p":"11.2","s":"RL","t":55,"lo":34,"hi":47},{"p":"11.2","s":"RL","t":60,"lo":36,"hi":51},
      {"p":"16.4","s":"NN","t":0,"lo":0,"hi":0},{"p":"16.4","s":"NN","t":5,"lo":2,"hi":5},{"p":"16.4","s":"NN","t":10,"lo":5,"hi":11},{"p":"16.4","s":"NN","t":15,"lo":13,"hi":22},{"p":"16.4","s":"NN","t":20,"lo":23,"hi":35},{"p":"16.4","s":"NN","t":25,"lo":33,"hi":47},{"p":"16.4","s":"NN","t":30,"lo":42,"hi":57},{"p":"16.4","s":"NN","t":35,"lo":50,"hi":66},{"p":"16.4","s":"NN","t":40,"lo":57,"hi":75},{"p":"16.4","s":"NN","t":45,"lo":63,"hi":83},{"p":"16.4","s":"NN","t":50,"lo":68,"hi":90},{"p":"16.4","s":"NN","t":55,"lo":72,"hi":98},{"p":"16.4","s":"NN","t":60,"lo":75,"hi":105},
      {"p":"16.4","s":"NL","t":0,"lo":0,"hi":0},{"p":"16.4","s":"NL","t":5,"lo":2,"hi":5},{"p":"16.4","s":"NL","t":10,"lo":5,"hi":10},{"p":"16.4","s":"NL","t":15,"lo":12,"hi":20},{"p":"16.4","s":"NL","t":20,"lo":22,"hi":32},{"p":"16.4","s":"NL","t":25,"lo":32,"hi":44},{"p":"16.4","s":"NL","t":30,"lo":40,"hi":54},{"p":"16.4","s":"NL","t":35,"lo":48,"hi":62},{"p":"16.4","s":"NL","t":40,"lo":55,"hi":70},{"p":"16.4","s":"NL","t":45,"lo":60,"hi":76},{"p":"16.4","s":"NL","t":50,"lo":64,"hi":81},{"p":"16.4","s":"NL","t":55,"lo":68,"hi":86},{"p":"16.4","s":"NL","t":60,"lo":70,"hi":90},
      {"p":"16.4","s":"RN","t":0,"lo":0,"hi":0},{"p":"16.4","s":"RN","t":5,"lo":2,"hi":5},{"p":"16.4","s":"RN","t":10,"lo":5,"hi":11},{"p":"16.4","s":"RN","t":15,"lo":14,"hi":24},{"p":"16.4","s":"RN","t":20,"lo":24,"hi":38},{"p":"16.4","s":"RN","t":25,"lo":34,"hi":50},{"p":"16.4","s":"RN","t":30,"lo":44,"hi":60},{"p":"16.4","s":"RN","t":35,"lo":52,"hi":70},{"p":"16.4","s":"RN","t":40,"lo":60,"hi":80},{"p":"16.4","s":"RN","t":45,"lo":66,"hi":88},{"p":"16.4","s":"RN","t":50,"lo":72,"hi":96},{"p":"16.4","s":"RN","t":55,"lo":76,"hi":104},{"p":"16.4","s":"RN","t":60,"lo":80,"hi":110},
      {"p":"16.4","s":"RL","t":0,"lo":0,"hi":1},{"p":"16.4","s":"RL","t":5,"lo":2,"hi":4},{"p":"16.4","s":"RL","t":10,"lo":5,"hi":7},{"p":"16.4","s":"RL","t":15,"lo":8,"hi":10},{"p":"16.4","s":"RL","t":20,"lo":10,"hi":12},{"p":"16.4","s":"RL","t":25,"lo":12,"hi":14},{"p":"16.4","s":"RL","t":30,"lo":13,"hi":15},{"p":"16.4","s":"RL","t":35,"lo":14,"hi":16},{"p":"16.4","s":"RL","t":40,"lo":15,"hi":17},{"p":"16.4","s":"RL","t":45,"lo":16,"hi":18},{"p":"16.4","s":"RL","t":50,"lo":17,"hi":19},{"p":"16.4","s":"RL","t":55,"lo":19,"hi":21},{"p":"16.4","s":"RL","t":60,"lo":20,"hi":22}
    ]
  },
  "spacing": 12,
  "resolve": {"scale": {"color": "independent"}},
  "vconcat": [
    {
      "columns": 7, "bounds": "flush", "align": "each",
      "spacing": {"row": 3, "column": 0},
      "resolve": {"scale": {"color": "independent"}},
      "concat": [
        {
          "width": 81, "height": 8,
          "title": {"text": "A", "anchor": "start", "frame": "group", "dx": -32, "offset": 2, "fontSize": 9.5, "fontWeight": "bold"},
          "data": {"name": "legPI"},
          "mark": {"type": "tick", "orient": "horizontal", "thickness": 4, "size": 13},
          "encoding": {
            "x": {"field": "g", "type": "nominal", "sort": null, "scale": {"type": "point", "padding": 0.9}, "axis": {"orient": "top", "title": "Preference Index 0 mW/cm²", "domain": false, "ticks": false, "labelAngle": 0, "labelPadding": 1, "labelFontSize": 9.5, "titleFontSize": 9, "titlePadding": 2}},
            "color": {"field": "g", "type": "nominal", "scale": {"domain": ["Ret", "No ret"], "range": ["#a03ca0", "#555555"]}, "legend": null}
          }
        },
        {"width": 68, "height": 1, "data": {"values": [{}]}, "mark": {"type": "rect", "opacity": 0}},
        {
          "width": 81, "height": 8,
          "title": {"text": "B", "anchor": "start", "frame": "group", "dx": -32, "offset": 2, "fontSize": 9.5, "fontWeight": "bold"},
          "data": {"name": "legPI"},
          "mark": {"type": "tick", "orient": "horizontal", "thickness": 4, "size": 13},
          "encoding": {
            "x": {"field": "g", "type": "nominal", "sort": null, "scale": {"type": "point", "padding": 0.9}, "axis": {"orient": "top", "title": "Preference Index 0.1 mW/cm²", "domain": false, "ticks": false, "labelAngle": 0, "labelPadding": 1, "labelFontSize": 9.5, "titleFontSize": 9, "titlePadding": 2}},
            "color": {"field": "g", "type": "nominal", "scale": {"domain": ["Ret", "No ret"], "range": ["#3aaee2", "#555555"]}, "legend": null}
          }
        },
        {"width": 70, "height": 1, "data": {"values": [{}]}, "mark": {"type": "rect", "opacity": 0}},
        {
          "width": 81, "height": 8,
          "title": {"text": "C", "anchor": "start", "frame": "group", "dx": -32, "offset": 2, "fontSize": 9.5, "fontWeight": "bold"},
          "data": {"name": "legPI"},
          "mark": {"type": "tick", "orient": "horizontal", "thickness": 4, "size": 13},
          "encoding": {
            "x": {"field": "g", "type": "nominal", "sort": null, "scale": {"type": "point", "padding": 0.9}, "axis": {"orient": "top", "title": "Preference Index 1.8 mW/cm²", "domain": false, "ticks": false, "labelAngle": 0, "labelPadding": 1, "labelFontSize": 9.5, "titleFontSize": 9, "titlePadding": 2}},
            "color": {"field": "g", "type": "nominal", "scale": {"domain": ["Ret", "No ret"], "range": ["#2e9a48", "#555555"]}, "legend": null}
          }
        },
        {"width": 81, "height": 1, "data": {"values": [{}]}, "mark": {"type": "rect", "opacity": 0}},
        {
          "width": 81, "height": 8,
          "title": {"text": "D", "anchor": "start", "frame": "group", "dx": -32, "offset": 2, "fontSize": 9.5, "fontWeight": "bold"},
          "data": {"name": "legPI"},
          "mark": {"type": "tick", "orient": "horizontal", "thickness": 4, "size": 13},
          "encoding": {
            "x": {"field": "g", "type": "nominal", "sort": null, "scale": {"type": "point", "padding": 0.9}, "axis": {"orient": "top", "title": "Preference Index 6.5 mW/cm²", "domain": false, "ticks": false, "labelAngle": 0, "labelPadding": 1, "labelFontSize": 9.5, "titleFontSize": 9, "titlePadding": 2}},
            "color": {"field": "g", "type": "nominal", "scale": {"domain": ["Ret", "No ret"], "range": ["#f7e53a", "#555555"]}, "legend": null}
          }
        },
        {
          "width": 81, "height": 81,
          "data": {"name": "pi"},
          "transform": [{"filter": "datum.p === '0'"}],
          "mark": "area",
          "encoding": {
            "x": {"field": "t", "type": "quantitative", "scale": {"domain": [0, 60]}, "axis": {"values": [0, 30, 60], "title": "Time (min)"}},
            "y": {"field": "lo", "type": "quantitative", "stack": null, "scale": {"domain": [-1, 1]}, "axis": {"values": [-1, -0.5, 0, 0.5, 1], "labelExpr": "replace(format(datum.value, '.1f'), '\u2212', '-')", "title": "Preference Index"}},
            "y2": {"field": "hi"},
            "color": {"field": "g", "type": "nominal", "scale": {"domain": ["Ret", "No ret"], "range": ["#a03ca0", "#555555"]}, "legend": null}
          }
        },
        {"width": 68, "height": 1, "data": {"values": [{}]}, "mark": {"type": "rect", "opacity": 0}},
        {
          "width": 81, "height": 81,
          "data": {"name": "pi"},
          "transform": [{"filter": "datum.p === '0.1'"}],
          "mark": "area",
          "encoding": {
            "x": {"field": "t", "type": "quantitative", "scale": {"domain": [0, 60]}, "axis": {"values": [0, 30, 60], "title": "Time (min)"}},
            "y": {"field": "lo", "type": "quantitative", "stack": null, "scale": {"domain": [-1, 1]}, "axis": {"values": [-1, -0.5, 0, 0.5, 1], "labelExpr": "replace(format(datum.value, '.1f'), '\u2212', '-')", "title": "Preference Index"}},
            "y2": {"field": "hi"},
            "color": {"field": "g", "type": "nominal", "scale": {"domain": ["Ret", "No ret"], "range": ["#3aaee2", "#555555"]}, "legend": null}
          }
        },
        {"width": 70, "height": 1, "data": {"values": [{}]}, "mark": {"type": "rect", "opacity": 0}},
        {
          "width": 81, "height": 81,
          "data": {"name": "pi"},
          "transform": [{"filter": "datum.p === '1.8'"}],
          "mark": "area",
          "encoding": {
            "x": {"field": "t", "type": "quantitative", "scale": {"domain": [0, 60]}, "axis": {"values": [0, 30, 60], "title": "Time (min)"}},
            "y": {"field": "lo", "type": "quantitative", "stack": null, "scale": {"domain": [-1, 1]}, "axis": {"values": [-1, -0.5, 0, 0.5, 1], "labelExpr": "replace(format(datum.value, '.1f'), '\u2212', '-')", "title": "Preference Index"}},
            "y2": {"field": "hi"},
            "color": {"field": "g", "type": "nominal", "scale": {"domain": ["Ret", "No ret"], "range": ["#2e9a48", "#555555"]}, "legend": null}
          }
        },
        {"width": 81, "height": 1, "data": {"values": [{}]}, "mark": {"type": "rect", "opacity": 0}},
        {
          "width": 81, "height": 81,
          "data": {"name": "pi"},
          "transform": [{"filter": "datum.p === '6.5'"}],
          "mark": "area",
          "encoding": {
            "x": {"field": "t", "type": "quantitative", "scale": {"domain": [0, 60]}, "axis": {"values": [0, 30, 60], "title": "Time (min)"}},
            "y": {"field": "lo", "type": "quantitative", "stack": null, "scale": {"domain": [-1, 1]}, "axis": {"values": [-1, -0.5, 0, 0.5, 1], "labelExpr": "replace(format(datum.value, '.1f'), '\u2212', '-')", "title": "Preference Index"}},
            "y2": {"field": "hi"},
            "color": {"field": "g", "type": "nominal", "scale": {"domain": ["Ret", "No ret"], "range": ["#f7e53a", "#555555"]}, "legend": null}
          }
        }
      ]
    },
    {
      "columns": 5, "bounds": "flush", "align": "each",
      "spacing": {"row": 3, "column": 0},
      "resolve": {"scale": {"color": "independent"}},
      "concat": [
        {
          "width": 81, "height": 8,
          "title": {"text": "E", "anchor": "start", "frame": "group", "dx": -32, "offset": 2, "fontSize": 9.5, "fontWeight": "bold"},
          "data": {"name": "legPI"},
          "mark": {"type": "tick", "orient": "horizontal", "thickness": 4, "size": 13},
          "encoding": {
            "x": {"field": "g", "type": "nominal", "sort": null, "scale": {"type": "point", "padding": 0.9}, "axis": {"orient": "top", "title": "Preference Index 11.2 mW/cm²", "domain": false, "ticks": false, "labelAngle": 0, "labelPadding": 1, "labelFontSize": 9.5, "titleFontSize": 9, "titlePadding": 2}},
            "color": {"field": "g", "type": "nominal", "scale": {"domain": ["Ret", "No ret"], "range": ["#f69b2d", "#555555"]}, "legend": null}
          }
        },
        {"width": 68, "height": 1, "data": {"values": [{}]}, "mark": {"type": "rect", "opacity": 0}},
        {
          "width": 81, "height": 8,
          "title": {"text": "F", "anchor": "start", "frame": "group", "dx": -32, "offset": 2, "fontSize": 9.5, "fontWeight": "bold"},
          "data": {"name": "legPI"},
          "mark": {"type": "tick", "orient": "horizontal", "thickness": 4, "size": 13},
          "encoding": {
            "x": {"field": "g", "type": "nominal", "sort": null, "scale": {"type": "point", "padding": 0.9}, "axis": {"orient": "top", "title": "Preference Index 16.4 mW/cm²", "domain": false, "ticks": false, "labelAngle": 0, "labelPadding": 1, "labelFontSize": 9.5, "titleFontSize": 9, "titlePadding": 2}},
            "color": {"field": "g", "type": "nominal", "scale": {"domain": ["Ret", "No ret"], "range": ["#e83428", "#555555"]}, "legend": null}
          }
        },
        {"width": 185, "height": 1, "data": {"values": [{}]}, "mark": {"type": "rect", "opacity": 0}},
        {
          "width": 81, "height": 8,
          "title": {"text": "G", "anchor": "start", "frame": "group", "dx": -35, "offset": 2, "fontSize": 9.5, "fontWeight": "bold"},
          "data": {"name": "legPI"},
          "mark": {"type": "tick", "orient": "horizontal", "thickness": 4, "size": 13, "opacity": 0},
          "encoding": {
            "x": {"field": "g", "type": "nominal", "sort": null, "scale": {"type": "point", "padding": 0.9}, "axis": {"orient": "top", "title": "Preference Index Ret", "labels": false, "domain": false, "ticks": false, "titleFontSize": 9, "titlePadding": 14}}
          }
        },
        {
          "width": 81, "height": 81,
          "data": {"name": "pi"},
          "transform": [{"filter": "datum.p === '11.2'"}],
          "mark": "area",
          "encoding": {
            "x": {"field": "t", "type": "quantitative", "scale": {"domain": [0, 60]}, "axis": {"values": [0, 30, 60], "title": "Time (min)"}},
            "y": {"field": "lo", "type": "quantitative", "stack": null, "scale": {"domain": [-1, 1]}, "axis": {"values": [-1, -0.5, 0, 0.5, 1], "labelExpr": "replace(format(datum.value, '.1f'), '\u2212', '-')", "title": "Preference Index"}},
            "y2": {"field": "hi"},
            "color": {"field": "g", "type": "nominal", "scale": {"domain": ["Ret", "No ret"], "range": ["#f69b2d", "#555555"]}, "legend": null}
          }
        },
        {"width": 68, "height": 1, "data": {"values": [{}]}, "mark": {"type": "rect", "opacity": 0}},
        {
          "width": 81, "height": 81,
          "data": {"name": "pi"},
          "transform": [{"filter": "datum.p === '16.4'"}],
          "mark": "area",
          "encoding": {
            "x": {"field": "t", "type": "quantitative", "scale": {"domain": [0, 60]}, "axis": {"values": [0, 30, 60], "title": "Time (min)"}},
            "y": {"field": "lo", "type": "quantitative", "stack": null, "scale": {"domain": [-1, 1]}, "axis": {"values": [-1, -0.5, 0, 0.5, 1], "labelExpr": "replace(format(datum.value, '.1f'), '\u2212', '-')", "title": "Preference Index"}},
            "y2": {"field": "hi"},
            "color": {"field": "g", "type": "nominal", "scale": {"domain": ["Ret", "No ret"], "range": ["#e83428", "#555555"]}, "legend": null}
          }
        },
        {"width": 185, "height": 1, "data": {"values": [{}]}, "mark": {"type": "rect", "opacity": 0}},
        {
          "width": 81, "height": 81,
          "data": {"name": "pi"},
          "transform": [{"filter": "datum.g === 'Ret'"}],
          "mark": "area",
          "encoding": {
            "x": {"field": "t", "type": "quantitative", "scale": {"domain": [0, 60]}, "axis": {"values": [0, 30, 60], "title": "Time (min)"}},
            "y": {"field": "lo", "type": "quantitative", "stack": null, "scale": {"domain": [-1, 1]}, "axis": {"values": [-1, -0.5, 0, 0.5, 1], "labelExpr": "replace(format(datum.value, '.1f'), '\u2212', '-')", "title": "Preference Index"}},
            "y2": {"field": "hi"},
            "color": {"field": "p", "type": "nominal", "scale": {"domain": ["16.4", "11.2", "6.5", "1.8", "0.1", "0"], "range": ["#e83428", "#f69b2d", "#f7e53a", "#2e9a48", "#3aaee2", "#a03ca0"]}, "legend": {"orient": "none", "legendX": 90, "legendY": -13, "title": null, "padding": 0, "symbolType": "M-1,-0.3H1V0.3H-1Z", "symbolSize": 169, "symbolStrokeWidth": 0, "rowPadding": 6.6, "labelFontSize": 9.5, "labelOffset": 3, "labelExpr": "datum.label + ' mW/cm²'"}}
          }
        }
      ]
    },
    {
      "columns": 7, "bounds": "flush", "align": "each",
      "spacing": {"row": 6, "column": 0},
      "resolve": {"scale": {"color": "independent"}},
      "concat": [
        {
          "width": 81, "height": 24,
          "title": {"text": "H", "anchor": "start", "frame": "group", "dx": -32, "offset": 2, "fontSize": 9.5, "fontWeight": "bold"},
          "data": {"name": "legIA"},
          "mark": {"type": "tick", "orient": "horizontal", "thickness": 4, "size": 13},
          "encoding": {
            "x": {"field": "g", "type": "nominal", "sort": ["Ret", "No ret"], "scale": {"type": "point", "padding": 0.9}, "axis": {"orient": "top", "title": "Interactions 0 mW/cm²", "domain": false, "ticks": false, "labelAngle": 0, "labelPadding": 1, "labelFontSize": 9.5, "titleFontSize": 9, "titlePadding": 2}},
            "y": {"field": "l", "type": "nominal", "sort": ["Light", "Non light"], "scale": {"type": "point", "padding": 0.5}, "axis": {"orient": "left", "title": null, "domain": false, "ticks": false, "offset": -16, "labelPadding": 0, "labelFontSize": 9}},
            "color": {"field": "s", "type": "nominal", "scale": {"domain": ["NN", "NL", "RN", "RL"], "range": ["rgba(150,150,150,0.5)", "rgba(50,50,50,0.8)", "rgba(160,60,160,0.4)", "rgba(160,60,160,0.92)"]}, "legend": null}
          }
        },
        {"width": 68, "height": 1, "data": {"values": [{}]}, "mark": {"type": "rect", "opacity": 0}},
        {
          "width": 81, "height": 24,
          "title": {"text": "I", "anchor": "start", "frame": "group", "dx": -32, "offset": 2, "fontSize": 9.5, "fontWeight": "bold"},
          "data": {"name": "legIA"},
          "mark": {"type": "tick", "orient": "horizontal", "thickness": 4, "size": 13},
          "encoding": {
            "x": {"field": "g", "type": "nominal", "sort": ["Ret", "No ret"], "scale": {"type": "point", "padding": 0.9}, "axis": {"orient": "top", "title": "Interactions 0.1 mW/cm²", "domain": false, "ticks": false, "labelAngle": 0, "labelPadding": 1, "labelFontSize": 9.5, "titleFontSize": 9, "titlePadding": 2}},
            "y": {"field": "l", "type": "nominal", "sort": ["Light", "Non light"], "scale": {"type": "point", "padding": 0.5}, "axis": {"orient": "left", "title": null, "domain": false, "ticks": false, "offset": -16, "labelPadding": 0, "labelFontSize": 9}},
            "color": {"field": "s", "type": "nominal", "scale": {"domain": ["NN", "NL", "RN", "RL"], "range": ["rgba(150,150,150,0.5)", "rgba(50,50,50,0.8)", "rgba(58,174,226,0.4)", "rgba(58,174,226,0.92)"]}, "legend": null}
          }
        },
        {"width": 70, "height": 1, "data": {"values": [{}]}, "mark": {"type": "rect", "opacity": 0}},
        {
          "width": 81, "height": 24,
          "title": {"text": "J", "anchor": "start", "frame": "group", "dx": -32, "offset": 2, "fontSize": 9.5, "fontWeight": "bold"},
          "data": {"name": "legIA"},
          "mark": {"type": "tick", "orient": "horizontal", "thickness": 4, "size": 13},
          "encoding": {
            "x": {"field": "g", "type": "nominal", "sort": ["Ret", "No ret"], "scale": {"type": "point", "padding": 0.9}, "axis": {"orient": "top", "title": "Interactions 1.8 mW/cm²", "domain": false, "ticks": false, "labelAngle": 0, "labelPadding": 1, "labelFontSize": 9.5, "titleFontSize": 9, "titlePadding": 2}},
            "y": {"field": "l", "type": "nominal", "sort": ["Light", "Non light"], "scale": {"type": "point", "padding": 0.5}, "axis": {"orient": "left", "title": null, "domain": false, "ticks": false, "offset": -16, "labelPadding": 0, "labelFontSize": 9}},
            "color": {"field": "s", "type": "nominal", "scale": {"domain": ["NN", "NL", "RN", "RL"], "range": ["rgba(150,150,150,0.5)", "rgba(50,50,50,0.8)", "rgba(46,154,72,0.4)", "rgba(46,154,72,0.92)"]}, "legend": null}
          }
        },
        {"width": 81, "height": 1, "data": {"values": [{}]}, "mark": {"type": "rect", "opacity": 0}},
        {
          "width": 81, "height": 24,
          "title": {"text": "K", "anchor": "start", "frame": "group", "dx": -32, "offset": 2, "fontSize": 9.5, "fontWeight": "bold"},
          "data": {"name": "legIA"},
          "mark": {"type": "tick", "orient": "horizontal", "thickness": 4, "size": 13},
          "encoding": {
            "x": {"field": "g", "type": "nominal", "sort": ["Ret", "No ret"], "scale": {"type": "point", "padding": 0.9}, "axis": {"orient": "top", "title": "Interactions 6.5 mW/cm²", "domain": false, "ticks": false, "labelAngle": 0, "labelPadding": 1, "labelFontSize": 9.5, "titleFontSize": 9, "titlePadding": 2}},
            "y": {"field": "l", "type": "nominal", "sort": ["Light", "Non light"], "scale": {"type": "point", "padding": 0.5}, "axis": {"orient": "left", "title": null, "domain": false, "ticks": false, "offset": -16, "labelPadding": 0, "labelFontSize": 9}},
            "color": {"field": "s", "type": "nominal", "scale": {"domain": ["NN", "NL", "RN", "RL"], "range": ["rgba(150,150,150,0.5)", "rgba(50,50,50,0.8)", "rgba(247,229,58,0.4)", "rgba(247,229,58,0.92)"]}, "legend": null}
          }
        },
        {
          "width": 81, "height": 80,
          "data": {"name": "ia"},
          "transform": [{"filter": "datum.p === '0'"}],
          "mark": "area",
          "encoding": {
            "x": {"field": "t", "type": "quantitative", "scale": {"domain": [0, 60]}, "axis": {"values": [0, 30, 60], "title": "Time (min)", "titlePadding": 8}},
            "y": {"field": "lo", "type": "quantitative", "stack": null, "scale": {"domain": [0, 200]}, "axis": {"values": [0, 50, 100, 150, 200], "title": "Interactions"}},
            "y2": {"field": "hi"},
            "color": {"field": "s", "type": "nominal", "scale": {"domain": ["NN", "NL", "RN", "RL"], "range": ["rgba(150,150,150,0.5)", "rgba(50,50,50,0.8)", "rgba(160,60,160,0.4)", "rgba(160,60,160,0.92)"]}, "legend": null}
          }
        },
        {"width": 68, "height": 1, "data": {"values": [{}]}, "mark": {"type": "rect", "opacity": 0}},
        {
          "width": 81, "height": 80,
          "data": {"name": "ia"},
          "transform": [{"filter": "datum.p === '0.1'"}],
          "mark": "area",
          "encoding": {
            "x": {"field": "t", "type": "quantitative", "scale": {"domain": [0, 60]}, "axis": {"values": [0, 30, 60], "title": "Time (min)", "titlePadding": 8}},
            "y": {"field": "lo", "type": "quantitative", "stack": null, "scale": {"domain": [0, 200]}, "axis": {"values": [0, 50, 100, 150, 200], "title": "Interactions"}},
            "y2": {"field": "hi"},
            "color": {"field": "s", "type": "nominal", "scale": {"domain": ["NN", "NL", "RN", "RL"], "range": ["rgba(150,150,150,0.5)", "rgba(50,50,50,0.8)", "rgba(58,174,226,0.4)", "rgba(58,174,226,0.92)"]}, "legend": null}
          }
        },
        {"width": 70, "height": 1, "data": {"values": [{}]}, "mark": {"type": "rect", "opacity": 0}},
        {
          "width": 81, "height": 80,
          "data": {"name": "ia"},
          "transform": [{"filter": "datum.p === '1.8'"}],
          "mark": "area",
          "encoding": {
            "x": {"field": "t", "type": "quantitative", "scale": {"domain": [0, 60]}, "axis": {"values": [0, 30, 60], "title": "Time (min)", "titlePadding": 8}},
            "y": {"field": "lo", "type": "quantitative", "stack": null, "scale": {"domain": [0, 200]}, "axis": {"values": [0, 50, 100, 150, 200], "title": "Interactions"}},
            "y2": {"field": "hi"},
            "color": {"field": "s", "type": "nominal", "scale": {"domain": ["NN", "NL", "RN", "RL"], "range": ["rgba(150,150,150,0.5)", "rgba(50,50,50,0.8)", "rgba(46,154,72,0.4)", "rgba(46,154,72,0.92)"]}, "legend": null}
          }
        },
        {"width": 81, "height": 1, "data": {"values": [{}]}, "mark": {"type": "rect", "opacity": 0}},
        {
          "width": 81, "height": 80,
          "data": {"name": "ia"},
          "transform": [{"filter": "datum.p === '6.5'"}],
          "mark": "area",
          "encoding": {
            "x": {"field": "t", "type": "quantitative", "scale": {"domain": [0, 60]}, "axis": {"values": [0, 30, 60], "title": "Time (min)", "titlePadding": 8}},
            "y": {"field": "lo", "type": "quantitative", "stack": null, "scale": {"domain": [0, 200]}, "axis": {"values": [0, 50, 100, 150, 200], "title": "Interactions"}},
            "y2": {"field": "hi"},
            "color": {"field": "s", "type": "nominal", "scale": {"domain": ["NN", "NL", "RN", "RL"], "range": ["rgba(150,150,150,0.5)", "rgba(50,50,50,0.8)", "rgba(247,229,58,0.4)", "rgba(247,229,58,0.92)"]}, "legend": null}
          }
        }
      ]
    },
    {
      "columns": 5, "bounds": "flush", "align": "each",
      "spacing": {"row": 6, "column": 0},
      "resolve": {"scale": {"color": "independent"}},
      "concat": [
        {
          "width": 81, "height": 24,
          "title": {"text": "L", "anchor": "start", "frame": "group", "dx": -32, "offset": 2, "fontSize": 9.5, "fontWeight": "bold"},
          "data": {"name": "legIA"},
          "mark": {"type": "tick", "orient": "horizontal", "thickness": 4, "size": 13},
          "encoding": {
            "x": {"field": "g", "type": "nominal", "sort": ["Ret", "No ret"], "scale": {"type": "point", "padding": 0.9}, "axis": {"orient": "top", "title": "Interactions 11.2 mW/cm²", "domain": false, "ticks": false, "labelAngle": 0, "labelPadding": 1, "labelFontSize": 9.5, "titleFontSize": 9, "titlePadding": 2}},
            "y": {"field": "l", "type": "nominal", "sort": ["Light", "Non light"], "scale": {"type": "point", "padding": 0.5}, "axis": {"orient": "left", "title": null, "domain": false, "ticks": false, "offset": -16, "labelPadding": 0, "labelFontSize": 9}},
            "color": {"field": "s", "type": "nominal", "scale": {"domain": ["NN", "NL", "RN", "RL"], "range": ["rgba(150,150,150,0.5)", "rgba(50,50,50,0.8)", "rgba(246,155,45,0.4)", "rgba(246,155,45,0.92)"]}, "legend": null}
          }
        },
        {"width": 68, "height": 1, "data": {"values": [{}]}, "mark": {"type": "rect", "opacity": 0}},
        {
          "width": 81, "height": 24,
          "title": {"text": "M", "anchor": "start", "frame": "group", "dx": -32, "offset": 2, "fontSize": 9.5, "fontWeight": "bold"},
          "data": {"name": "legIA"},
          "mark": {"type": "tick", "orient": "horizontal", "thickness": 4, "size": 13},
          "encoding": {
            "x": {"field": "g", "type": "nominal", "sort": ["Ret", "No ret"], "scale": {"type": "point", "padding": 0.9}, "axis": {"orient": "top", "title": "Interactions 16.4 mW/cm²", "domain": false, "ticks": false, "labelAngle": 0, "labelPadding": 1, "labelFontSize": 9.5, "titleFontSize": 9, "titlePadding": 2}},
            "y": {"field": "l", "type": "nominal", "sort": ["Light", "Non light"], "scale": {"type": "point", "padding": 0.5}, "axis": {"orient": "left", "title": null, "domain": false, "ticks": false, "offset": -16, "labelPadding": 0, "labelFontSize": 9}},
            "color": {"field": "s", "type": "nominal", "scale": {"domain": ["NN", "NL", "RN", "RL"], "range": ["rgba(150,150,150,0.5)", "rgba(50,50,50,0.8)", "rgba(232,52,40,0.4)", "rgba(232,52,40,0.92)"]}, "legend": null}
          }
        },
        {"width": 185, "height": 1, "data": {"values": [{}]}, "mark": {"type": "rect", "opacity": 0}},
        {
          "width": 81, "height": 24,
          "title": {"text": "N", "anchor": "start", "frame": "group", "dx": -35, "offset": 2, "fontSize": 9.5, "fontWeight": "bold"},
          "data": {"name": "legPI"},
          "mark": {"type": "tick", "orient": "horizontal", "thickness": 4, "size": 13, "opacity": 0},
          "encoding": {
            "x": {"field": "g", "type": "nominal", "sort": null, "scale": {"type": "point", "padding": 0.9}, "axis": {"orient": "top", "title": "Interactions Ret Light", "labels": false, "domain": false, "ticks": false, "titleFontSize": 9, "titlePadding": 14}}
          }
        },
        {
          "width": 81, "height": 80,
          "data": {"name": "ia"},
          "transform": [{"filter": "datum.p === '11.2'"}],
          "mark": "area",
          "encoding": {
            "x": {"field": "t", "type": "quantitative", "scale": {"domain": [0, 60]}, "axis": {"values": [0, 30, 60], "title": "Time (min)"}},
            "y": {"field": "lo", "type": "quantitative", "stack": null, "scale": {"domain": [0, 200]}, "axis": {"values": [0, 50, 100, 150, 200], "title": "Interactions"}},
            "y2": {"field": "hi"},
            "color": {"field": "s", "type": "nominal", "scale": {"domain": ["NN", "NL", "RN", "RL"], "range": ["rgba(150,150,150,0.5)", "rgba(50,50,50,0.8)", "rgba(246,155,45,0.4)", "rgba(246,155,45,0.92)"]}, "legend": null}
          }
        },
        {"width": 68, "height": 1, "data": {"values": [{}]}, "mark": {"type": "rect", "opacity": 0}},
        {
          "width": 81, "height": 80,
          "data": {"name": "ia"},
          "transform": [{"filter": "datum.p === '16.4'"}],
          "mark": "area",
          "encoding": {
            "x": {"field": "t", "type": "quantitative", "scale": {"domain": [0, 60]}, "axis": {"values": [0, 30, 60], "title": "Time (min)"}},
            "y": {"field": "lo", "type": "quantitative", "stack": null, "scale": {"domain": [0, 200]}, "axis": {"values": [0, 50, 100, 150, 200], "title": "Interactions"}},
            "y2": {"field": "hi"},
            "color": {"field": "s", "type": "nominal", "scale": {"domain": ["NN", "NL", "RN", "RL"], "range": ["rgba(150,150,150,0.5)", "rgba(50,50,50,0.8)", "rgba(232,52,40,0.4)", "rgba(232,52,40,0.92)"]}, "legend": null}
          }
        },
        {"width": 185, "height": 1, "data": {"values": [{}]}, "mark": {"type": "rect", "opacity": 0}},
        {
          "width": 81, "height": 80,
          "data": {"name": "ia"},
          "transform": [{"filter": "datum.s === 'RL'"}],
          "mark": "area",
          "encoding": {
            "x": {"field": "t", "type": "quantitative", "scale": {"domain": [0, 60]}, "axis": {"values": [0, 30, 60], "title": "Time (min)"}},
            "y": {"field": "lo", "type": "quantitative", "stack": null, "scale": {"domain": [0, 80]}, "axis": {"values": [0, 20, 40, 60, 80], "title": "Interactions"}},
            "y2": {"field": "hi"},
            "color": {"field": "p", "type": "nominal", "scale": {"domain": ["16.4", "11.2", "6.5", "1.8", "0.1", "0"], "range": ["#e83428", "#f69b2d", "#f7e53a", "#2e9a48", "#3aaee2", "#a03ca0"]}, "legend": {"orient": "none", "legendX": 90, "legendY": -9, "title": null, "padding": 0, "symbolType": "M-1,-0.3H1V0.3H-1Z", "symbolSize": 169, "symbolStrokeWidth": 0, "rowPadding": 6.4, "labelFontSize": 9.5, "labelOffset": 3, "labelExpr": "datum.label + ' mW/cm²'"}}
          }
        }
      ]
    }
  ],
  "config": {
    "font": "Liberation Sans",
    "view": {"stroke": null},
    "axis": {"grid": false, "labelFlush": false, "domainColor": "#000000", "tickColor": "#000000", "labelColor": "#000000", "titleColor": "#000000", "labelFontSize": 8, "titleFontSize": 8.5, "titleFontWeight": "bold", "tickSize": 3, "labelPadding": 1, "titlePadding": 4, "domainWidth": 1, "tickWidth": 1},
    "legend": {"labelColor": "#000000"},
    "title": {"color": "#000000"}
  }
}
